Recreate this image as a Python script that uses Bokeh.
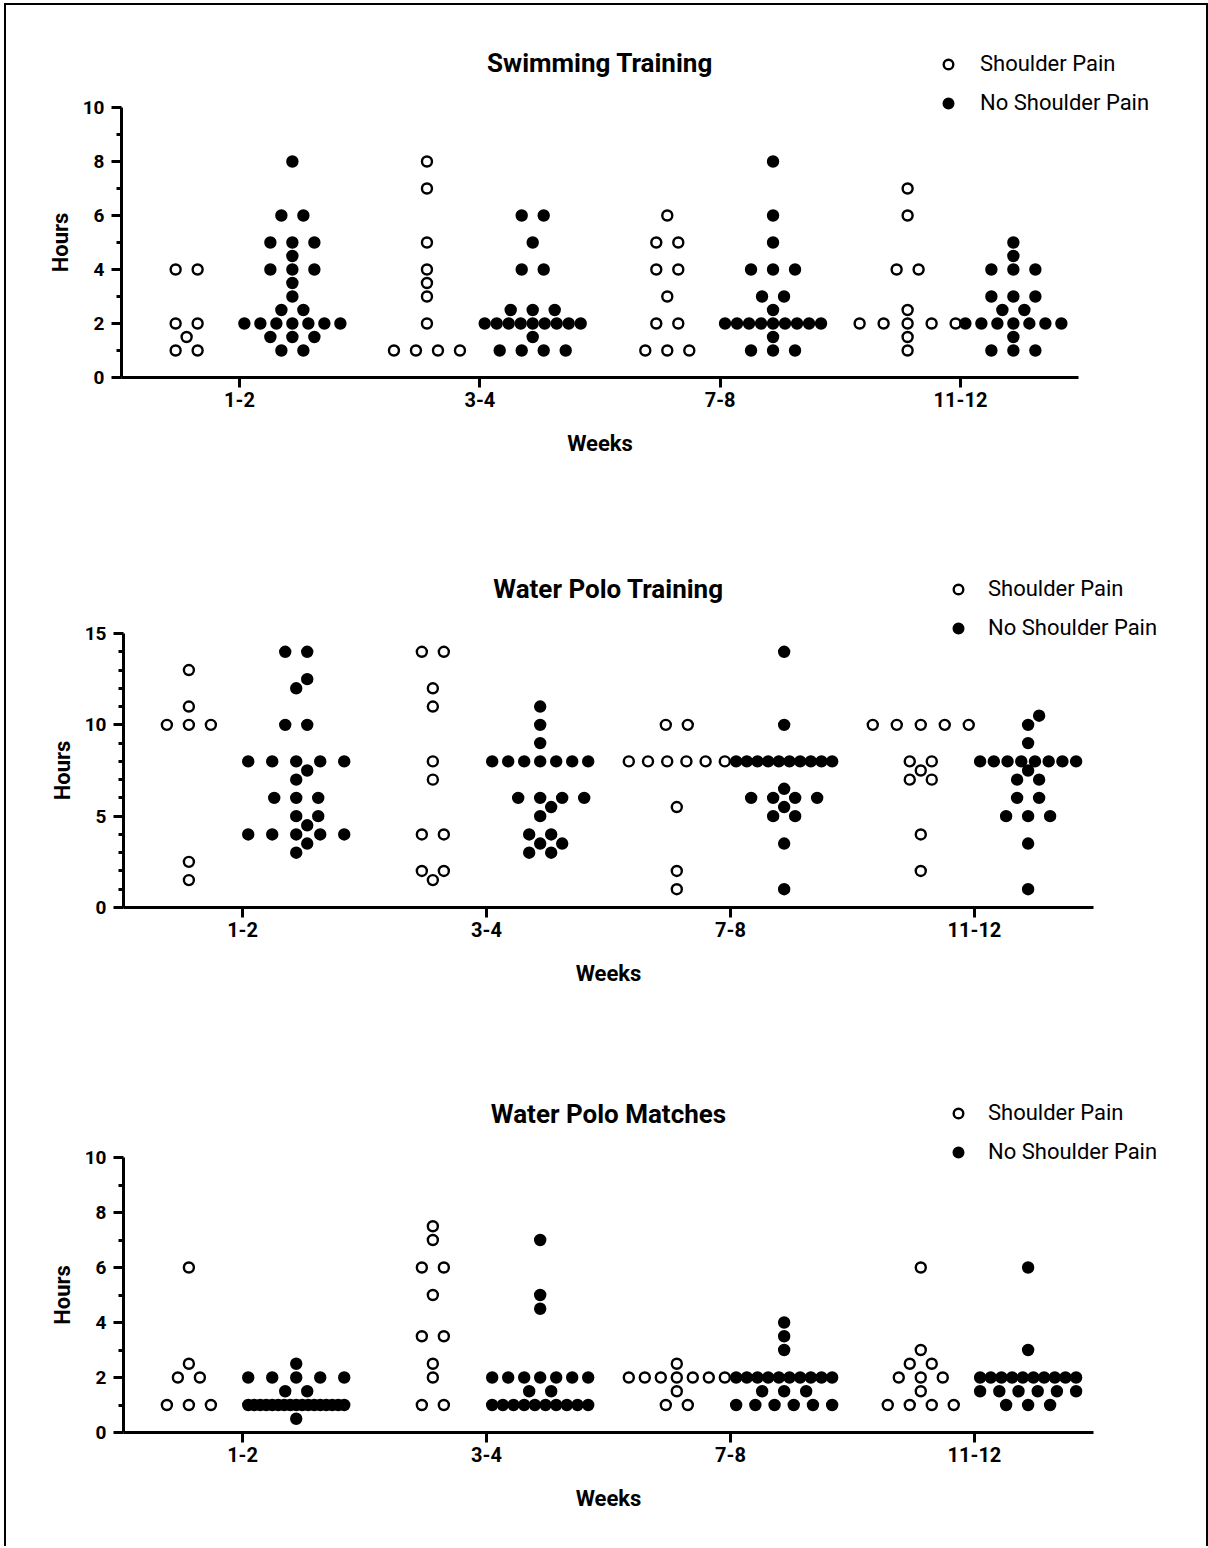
import math
from collections import Counter

from bokeh.plotting import figure
from bokeh.models import FixedTicker, Label, Legend, LegendItem, ColumnDataSource, Range1d
from bokeh.layouts import column
from bokeh.embed import file_html
from bokeh.resources import INLINE

# ---------------- data ----------------
weeks = ["1-2", "3-4", "7-8", "11-12"]
series_names = ["Shoulder Pain", "No Shoulder Pain"]
titles = ["Swimming Training", "Water Polo Training", "Water Polo Matches"]

swim_pain = [
    [4, 4, 2, 2, 1.5, 1, 1],
    [8, 7, 5, 4, 3.5, 3, 2, 1, 1, 1, 1],
    [6, 5, 5, 4, 4, 3, 2, 2, 1, 1, 1],
    [7, 6, 4, 4, 2.5, 2, 2, 2, 2, 2, 1.5, 1],
]
swim_nopain = [
    [8, 6, 6, 5, 5, 5, 4.5, 4, 4, 4, 3.5, 3, 2.5, 2.5, 2, 2, 2, 2, 2, 2, 2, 1.5, 1.5, 1.5, 1, 1],
    [6, 6, 5, 4, 4, 2.5, 2.5, 2.5, 2, 2, 2, 2, 2, 2, 2, 2, 2, 1.5, 1, 1, 1, 1],
    [8, 6, 5, 4, 4, 4, 3, 3, 2.5, 2, 2, 2, 2, 2, 2, 2, 2, 2, 1.5, 1, 1, 1],
    [5, 4.5, 4, 4, 4, 3, 3, 3, 2.5, 2.5, 2, 2, 2, 2, 2, 2, 2, 1.5, 1, 1, 1],
]
wpt_pain = [
    [13, 11, 10, 10, 10, 2.5, 1.5],
    [14, 14, 12, 11, 8, 7, 4, 4, 2, 2, 1.5],
    [10, 10, 8, 8, 8, 8, 8, 8, 5.5, 2, 1],
    [10, 10, 10, 10, 10, 8, 8, 7.5, 7, 7, 4, 2],
]
wpt_nopain = [
    [14, 14, 12.5, 12, 10, 10, 8, 8, 8, 8, 8, 7.5, 7, 6, 6, 6, 5, 5, 4.5, 4, 4, 4, 4, 4, 3.5, 3],
    [11, 10, 9, 8, 8, 8, 8, 8, 8, 8, 6, 6, 6, 6, 5.5, 5, 4, 4, 3.5, 3.5, 3, 3],
    [14, 10, 8, 8, 8, 8, 8, 8, 8, 8, 8, 8, 6.5, 6, 6, 6, 6, 5.5, 5, 5, 3.5, 1],
    [10.5, 10, 9, 8, 8, 8, 8, 8, 8, 8, 8, 7.5, 7, 7, 6, 6, 5, 5, 5, 3.5, 1],
]
wpm_pain = [
    [6, 2.5, 2, 2, 1, 1, 1],
    [7.5, 7, 6, 6, 5, 3.5, 3.5, 2.5, 2, 1, 1],
    [2.5, 2, 2, 2, 2, 2, 2, 2, 1.5, 1, 1],
    [6, 3, 2.5, 2.5, 2, 2, 2, 1.5, 1, 1, 1, 1],
]
wpm_nopain = [
    [2.5, 2, 2, 2, 2, 2, 1.5, 1.5, 1, 1, 1, 1, 1, 1, 1, 1, 1, 1, 1, 1, 1, 1, 1, 1, 1, 0.5],
    [7, 5, 4.5, 2, 2, 2, 2, 2, 2, 2, 1.5, 1.5, 1, 1, 1, 1, 1, 1, 1, 1, 1, 1],
    [4, 3.5, 3, 2, 2, 2, 2, 2, 2, 2, 2, 2, 2, 1.5, 1.5, 1.5, 1, 1, 1, 1, 1, 1],
    [6, 3, 2, 2, 2, 2, 2, 2, 2, 2, 2, 2, 1.5, 1.5, 1.5, 1.5, 1.5, 1.5, 1, 1, 1],
]

y_major_10 = [0, 2, 4, 6, 8, 10]
y_minor_10 = [1, 3, 5, 7, 9]
y_major_15 = [0, 5, 10, 15]
y_minor_15 = [1, 2, 3, 4, 6, 7, 8, 9, 11, 12, 13, 14]

FONT = "Roboto"
ORIGIN_X = 6          # page x of the column's content box
FIG_W = 1200

PAIN_STYLE = dict(marker="circle", size=10, fill_color="white", line_color="black", line_width=2.4)
NOPAIN_STYLE = dict(marker="circle", size=10, fill_color="black", line_color="black", line_width=2.4)


def no_align(p):
    if "frame_align" in p.properties():
        p.frame_align = False


def swarm(values, px_x, px_y, slot=22.0, width=96.0, dmin=10.5):
    """Beeswarm-style horizontal offsets (data units) for one group."""
    placed = []
    xs_out, ys_out = [], []
    for v, n in sorted(Counter(values).items()):
        y = v * px_y
        s = slot if n <= 4 else width / (n - 1)
        base = [(i - (n - 1) / 2) * s for i in range(n)]
        shifts = [0.0]
        for k in range(1, 10):
            shifts += [k * slot / 2, -k * slot / 2]
        xs = base
        for d in shifts:
            cand = [b + d for b in base]
            if all(math.hypot(x - px, y - py) >= dmin for x in cand for (px, py) in placed):
                xs = cand
                break
        placed += [(x, y) for x in xs]
        xs_out += [x / px_x for x in xs]
        ys_out += [v] * n
    return xs_out, ys_out


def make_header(title, geo):
    """Title + legend strip (page-pixel coordinates), overlapping the plot below it."""
    ht, hb = geo["head"]
    fl, fr, ft, fb = geo["frame"]
    h = figure(frame_width=FIG_W, frame_height=hb - ht,
               x_range=Range1d(ORIGIN_X, ORIGIN_X + FIG_W), y_range=Range1d(hb, ht),
               min_border=0, min_border_left=0, min_border_right=0,
               min_border_top=0, min_border_bottom=0,
               output_backend="svg", toolbar_location=None, title=None)
    no_align(h)
    h.axis.visible = False
    h.grid.visible = False
    h.outline_line_color = None
    h.background_fill_color = None
    h.border_fill_color = None

    # legend-only renderers (a single undrawn NaN placeholder so the legend has a glyph index)
    nan = float("nan")
    r_pain = h.scatter(x=[nan], y=[nan], **PAIN_STYLE)
    r_nopain = h.scatter(x=[nan], y=[nan], **NOPAIN_STYLE)

    h.add_layout(Label(x=(fl + fr) / 2, y=geo["title_y"], text=title,
                       text_align="center", text_baseline="middle",
                       text_font=FONT, text_font_style="bold",
                       text_font_size="26px", text_color="black"))

    leg_h = 24 * 2 + 14
    legend = Legend(
        items=[LegendItem(label=series_names[0], renderers=[r_pain], index=0),
               LegendItem(label=series_names[1], renderers=[r_nopain], index=0)],
        location=(geo["leg_left"] - ORIGIN_X, hb - (geo["leg_top"] + leg_h)),
        glyph_width=24, glyph_height=24, label_height=24, spacing=14,
        padding=0, margin=0, label_standoff=geo["leg_standoff"],
        border_line_color=None, background_fill_alpha=0,
        label_text_font=FONT, label_text_font_size="22px", label_text_color="black",
    )
    h.add_layout(legend)
    return h


def make_panel(pain, nopain, y_major, y_minor, geo):
    pt, pb = geo["plot"]
    fl, fr, ft, fb = geo["frame"]
    x_start = geo["x_start"]
    x_end = len(weeks) + 1 - x_start
    y_max = y_major[-1]
    px_x = (fr - fl) / (x_end - x_start)
    px_y = (fb - ft) / y_max

    p = figure(
        frame_width=fr - fl, frame_height=fb - ft,
        x_range=Range1d(x_start, x_end),
        y_range=Range1d(0, y_max),
        min_border_left=fl - ORIGIN_X,
        min_border_right=ORIGIN_X + FIG_W - fr,
        min_border_top=ft - pt,
        min_border_bottom=pb - fb,
        output_backend="svg", toolbar_location=None, title=None,
        styles={"margin-top": "%dpx" % (pt - geo["head"][1])},
    )
    no_align(p)
    p.outline_line_color = None
    p.xgrid.visible = False
    p.ygrid.visible = False
    p.background_fill_color = None
    p.border_fill_color = None

    cats = list(range(1, len(weeks) + 1))
    px_list, py_list, nx_list, ny_list = [], [], [], []
    for c, pv, nv in zip(cats, pain, nopain):
        ox, oy = swarm(pv, px_x, px_y)
        px_list += [c - 0.22 + o for o in ox]
        py_list += oy
        ox, oy = swarm(nv, px_x, px_y)
        nx_list += [c + 0.22 + o for o in ox]
        ny_list += oy

    p.scatter(x="x", y="y", source=ColumnDataSource(dict(x=px_list, y=py_list)), **PAIN_STYLE)
    p.scatter(x="x", y="y", source=ColumnDataSource(dict(x=nx_list, y=ny_list)), **NOPAIN_STYLE)

    # x axis
    xa = p.xaxis[0]
    xa.ticker = FixedTicker(ticks=cats, minor_ticks=[])
    xa.major_label_overrides = {c: w for c, w in zip(cats, weeks)}
    xa.axis_line_width = 3
    xa.major_tick_line_width = 3
    xa.major_tick_out = 10
    xa.major_tick_in = 0
    xa.minor_tick_out = 0
    xa.major_label_text_font = FONT
    xa.major_label_text_font_style = "bold"
    xa.major_label_text_font_size = "20px"
    xa.major_label_text_color = "black"
    xa.major_label_standoff = 4
    xa.axis_label = "Weeks"
    xa.axis_label_text_font = FONT
    xa.axis_label_text_font_style = "bold"
    xa.axis_label_text_font_size = "22px"
    xa.axis_label_text_color = "black"
    xa.axis_label_standoff = 21

    # y axis
    ya = p.yaxis[0]
    ya.ticker = FixedTicker(ticks=y_major, minor_ticks=y_minor)
    ya.axis_line_width = 3
    ya.major_tick_line_width = 3
    ya.minor_tick_line_width = 3
    ya.major_tick_out = 10
    ya.major_tick_in = 0
    ya.minor_tick_out = 5
    ya.minor_tick_in = 0
    ya.major_label_text_font = FONT
    ya.major_label_text_font_style = "bold"
    ya.major_label_text_font_size = "19px"
    ya.major_label_text_color = "black"
    ya.major_label_standoff = 7
    ya.axis_label = "Hours"
    ya.axis_label_text_font = FONT
    ya.axis_label_text_font_style = "bold"
    ya.axis_label_text_font_size = "22px"
    ya.axis_label_text_color = "black"
    ya.axis_label_standoff = 7
    return p


# page-pixel geometry of each panel: header strip, plot figure, plot frame
geos = [
    dict(head=(5, 125), plot=(60, 525), frame=(121, 1078, 107, 377), x_start=0.509,
         title_y=62, leg_top=53, leg_left=936, leg_standoff=20),
    dict(head=(525, 650), plot=(580, 1050), frame=(123, 1093, 633, 907), x_start=0.512,
         title_y=588, leg_top=578, leg_left=946, leg_standoff=18),
    dict(head=(1050, 1175), plot=(1105, 1546), frame=(123, 1093, 1157, 1432), x_start=0.512,
         title_y=1113, leg_top=1102, leg_left=946, leg_standoff=18),
]
panel_data = [
    (swim_pain, swim_nopain, y_major_10, y_minor_10),
    (wpt_pain, wpt_nopain, y_major_15, y_minor_15),
    (wpm_pain, wpm_nopain, y_major_10, y_minor_10),
]

children = []
for title, (pain, nopain, ymaj, ymin), geo in zip(titles, panel_data, geos):
    children.append(make_header(title, geo))
    children.append(make_panel(pain, nopain, ymaj, ymin, geo))

layout = column(*children, spacing=0,
                styles={"border": "2px solid black", "border-bottom": "none",
                        "margin": "3px 0 0 4px"})

open("out.html", "w").write(file_html(layout, INLINE))
